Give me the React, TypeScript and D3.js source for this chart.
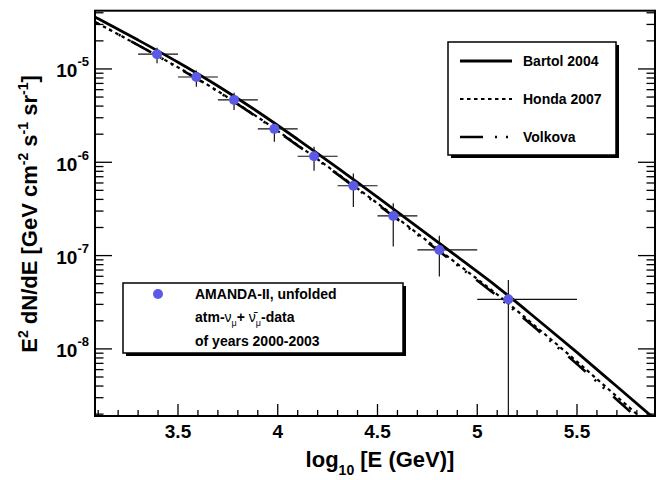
import React from "react";
import * as d3 from "d3";

const W = 670;
const H = 480;
const FRAME = { left: 95, right: 655, top: 10.7, bottom: 416 };

// Unfolded AMANDA-II atmospheric neutrino spectrum (log10 E [GeV], E^2 dN/dE [GeV cm^-2 s^-1 sr^-1])
const dataLogE = [3.395, 3.592, 3.781, 3.983, 4.182, 4.379, 4.579, 4.81, 5.156];
const binLow = [3.3, 3.5, 3.7, 3.9, 4.1, 4.3, 4.5, 4.7, 5.0];
const binHigh = [3.5, 3.7, 3.9, 4.1, 4.3, 4.5, 4.7, 5.0, 5.5];
const dataFlux = [1.44e-5, 8.2e-6, 4.66e-6, 2.28e-6, 1.16e-6, 5.6e-7, 2.66e-7, 1.15e-7, 3.4e-8];
const fluxUpper = [1.69e-5, 9.6e-6, 5.57e-6, 2.72e-6, 1.47e-6, 7.6e-7, 3.64e-7, 1.63e-7, 5.48e-8];
const fluxLower = [1.15e-5, 6.46e-6, 3.64e-6, 1.66e-6, 8.13e-7, 3.32e-7, 1.25e-7, 5.96e-8, 1e-12];

// Model predictions on a common log10 E grid
const modelLogE = [3.0, 3.1, 3.3, 3.5, 3.7, 3.9, 4.1, 4.3, 4.5, 4.7, 4.9, 5.1, 5.3, 5.5, 5.7, 5.9];
const bartol2004 = [4.49e-5, 3.46e-5, 2.04e-5, 1.18e-5, 6.57e-6, 3.48e-6, 1.76e-6, 8.72e-7, 4.23e-7, 2.03e-7, 9.72e-8, 4.63e-8, 2.08e-8, 9.17e-9, 3.95e-9, 1.7e-9];
const honda2007 = [3.97e-5, 3.06e-5, 1.8e-5, 1.04e-5, 5.78e-6, 3.04e-6, 1.53e-6, 7.53e-7, 3.63e-7, 1.73e-7, 8.16e-8, 3.83e-8, 1.69e-8, 7.31e-9, 3.08e-9, 1.3e-9];
const volkova = [3.97e-5, 3.06e-5, 1.8e-5, 1.03e-5, 5.73e-6, 3.01e-6, 1.51e-6, 7.41e-7, 3.55e-7, 1.68e-7, 7.9e-8, 3.68e-8, 1.61e-8, 6.87e-9, 2.85e-9, 1.18e-9];

const modelNames = ["Bartol 2004", "Honda 2007", "Volkova"];
const modelSeries = [bartol2004, honda2007, volkova];
const modelDash = ["none", "3.5 3.5", "23 12 2 9 2 12"];
const modelWidth = [2.8, 2.2, 2.6];

const FONT = "'Liberation Sans', Arial, Helvetica, sans-serif";
const MARKER = "#5a5ae6";

export default function App() {
  const x = d3.scaleLinear().domain([3.084, 5.891]).range([FRAME.left, FRAME.right]);
  const y = d3.scaleLog().domain([1.91e-9, 4.21e-5]).range([FRAME.bottom, FRAME.top]);

  const majorX = x.ticks(5);
  const minorX = x.ticks(30);
  const yTicks = y.ticks();
  const isDecade = (v: number) => Math.abs(Math.log10(v) - Math.round(Math.log10(v))) < 1e-6;

  const line = d3
    .line<[number, number]>()
    .x((d) => x(d[0]))
    .y((d) => y(d[1]))
    .curve(d3.curveMonotoneX);

  const yb = (v: number) => Math.min(FRAME.bottom, y(v));

  return (
    <svg
      width={W}
      height={H}
      style={{ position: "absolute", left: 0, top: 0, background: "#fff" }}
      fontFamily={FONT}
      fontWeight="bold"
    >
      <defs>
        <clipPath id="plotArea">
          <rect x={FRAME.left} y={FRAME.top} width={FRAME.right - FRAME.left} height={FRAME.bottom - FRAME.top} />
        </clipPath>
      </defs>
      <rect x={0} y={0} width={W} height={H} fill="#fff" />

      {/* model curves */}
      <g clipPath="url(#plotArea)">
        {modelSeries.map((s, i) => (
          <path
            key={modelNames[i]}
            d={line(modelLogE.map((e, j) => [e, s[j]] as [number, number])) || ""}
            fill="none"
            stroke="#000"
            strokeWidth={modelWidth[i]}
            strokeDasharray={modelDash[i]}
          />
        ))}
      </g>

      {/* data with error bars */}
      <g clipPath="url(#plotArea)">
        {dataLogE.map((e, i) => (
          <g key={i} stroke="#111" strokeWidth={1.2}>
            <line x1={x(binLow[i])} x2={x(binHigh[i])} y1={y(dataFlux[i])} y2={y(dataFlux[i])} />
            <line x1={x(e)} x2={x(e)} y1={y(fluxUpper[i])} y2={yb(fluxLower[i])} />
          </g>
        ))}
        {dataLogE.map((e, i) => (
          <circle key={i} cx={x(e)} cy={y(dataFlux[i])} r={5} fill={MARKER} />
        ))}
      </g>

      {/* frame */}
      <rect
        x={FRAME.left}
        y={FRAME.top}
        width={FRAME.right - FRAME.left}
        height={FRAME.bottom - FRAME.top}
        fill="none"
        stroke="#000"
        strokeWidth={2}
      />

      {/* x ticks */}
      <g stroke="#000" strokeWidth={1.3}>
        {minorX.map((t) => {
          const major = majorX.some((m) => Math.abs(m - t) < 1e-6);
          return <line key={t} x1={x(t)} x2={x(t)} y1={FRAME.bottom} y2={FRAME.bottom - (major ? 12 : 6)} />;
        })}
      </g>
      {majorX.map((t) => (
        <text key={t} x={x(t)} y={438} textAnchor="middle" fontSize={19}>
          {d3.format("")(t)}
        </text>
      ))}

      {/* y ticks, left and right */}
      <g stroke="#000" strokeWidth={1.3}>
        {yTicks.map((t) => {
          const len = isDecade(t) ? 17 : 8.5;
          return (
            <g key={t}>
              <line x1={FRAME.left} x2={FRAME.left + len} y1={y(t)} y2={y(t)} />
              <line x1={FRAME.right} x2={FRAME.right - len} y1={y(t)} y2={y(t)} />
            </g>
          );
        })}
      </g>
      {yTicks.filter(isDecade).map((t) => (
        <text key={t} x={89} y={y(t) + 8.5} textAnchor="end" fontSize={19}>
          10
          <tspan dy={-11} fontSize={13}>
            {String(Math.round(Math.log10(t)))}
          </tspan>
        </text>
      ))}

      {/* axis titles */}
      <text x={380} y={467} textAnchor="middle" fontSize={22}>
        log
        <tspan dy={8} fontSize={14}>10</tspan>
        <tspan dy={-8}> [E (GeV)]</tspan>
      </text>
      <text transform="translate(37,214) rotate(-90)" textAnchor="middle" fontSize={22}>
        E<tspan dy={-9} fontSize={14}>2</tspan>
        <tspan dy={9}> dN/dE [GeV cm</tspan>
        <tspan dy={-9} fontSize={14}>-2</tspan>
        <tspan dy={9}> s</tspan>
        <tspan dy={-9} fontSize={14}>-1</tspan>
        <tspan dy={9}> sr</tspan>
        <tspan dy={-9} fontSize={14}>-1</tspan>
        <tspan dy={9}>]</tspan>
      </text>

      {/* model legend */}
      <g>
        <rect x={451} y={45} width={168} height={113} fill="#000" />
        <rect x={448} y={42} width={168} height={113} fill="#fff" stroke="#000" strokeWidth={1.5} />
        {modelNames.map((n, i) => {
          const ly = 61 + i * 38;
          return (
            <g key={n}>
              <line
                x1={460}
                x2={512}
                y1={ly}
                y2={ly}
                stroke="#000"
                strokeWidth={modelWidth[i]}
                strokeDasharray={modelDash[i]}
              />
              <text x={523} y={ly + 5} fontSize={14}>
                {n}
              </text>
            </g>
          );
        })}
      </g>

      {/* data legend */}
      <g>
        <rect x={126} y={286} width={280} height={70} fill="#000" />
        <rect x={123} y={283} width={280} height={70} fill="#fff" stroke="#000" strokeWidth={1.5} />
        <circle cx={158} cy={294} r={5} fill={MARKER} />
        <text x={195} y={299} fontSize={14}>
          AMANDA-II, unfolded
        </text>
        <text x={195} y={322} fontSize={14}>
          atm-
          <tspan fontWeight="normal">ν</tspan>
          <tspan dy={4} fontSize={9} fontWeight="normal">μ</tspan>
          <tspan dy={-4}>+ </tspan>
          <tspan fontWeight="normal">ν̄</tspan>
          <tspan dy={4} fontSize={9} fontWeight="normal">μ</tspan>
          <tspan dy={-4}>-data</tspan>
        </text>
        <text x={195} y={346} fontSize={14}>
          of years 2000-2003
        </text>
      </g>
    </svg>
  );
}
